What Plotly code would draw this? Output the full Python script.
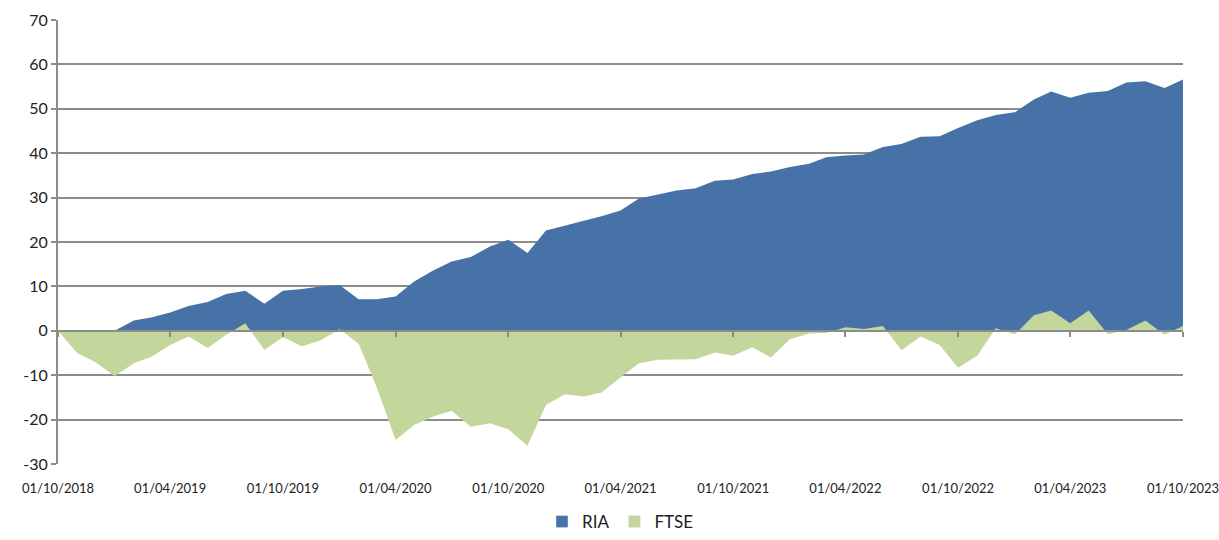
import pandas as pd
import plotly.graph_objects as go

dates = pd.date_range("2018-10-01", periods=61, freq="MS")

ria = [0.0, 0.0, 0.0, 0.0, 2.3, 3.0, 4.1, 5.6, 6.5, 8.3,
       9.0, 6.1, 9.0, 9.4, 10.0, 10.3, 7.1, 7.1, 7.7, 11.1,
       13.6, 15.6, 16.6, 19.0, 20.5, 17.5, 22.6, 23.7, 24.7, 25.8,
       27.1, 29.8, 30.7, 31.6, 32.1, 33.8, 34.1, 35.3, 35.9, 36.9,
       37.6, 39.1, 39.5, 39.7, 41.4, 42.1, 43.7, 43.8, 45.7, 47.4,
       48.6, 49.2, 52.1, 53.9, 52.5, 53.6, 54.0, 55.9, 56.2, 54.7,
       56.6]

ftse = [0.0, -5.0, -7.1, -10.2, -7.3, -5.9, -3.2, -1.3, -3.9, -0.9,
        1.7, -4.3, -1.4, -3.5, -2.2, 0.4, -2.9, -12.6, -24.6, -21.2,
        -19.3, -18.0, -21.6, -20.8, -22.2, -25.9, -16.7, -14.3, -14.8, -13.9,
        -10.5, -7.3, -6.5, -6.4, -6.4, -4.9, -5.6, -3.7, -6.0, -1.9,
        -0.6, -0.5, 0.8, 0.4, 1.1, -4.4, -1.3, -3.2, -8.3, -5.6,
        0.6, -0.8, 3.5, 4.6, 1.7, 4.6, -0.8, 0.2, 2.3, -0.9,
        1.1]

y_ticks = list(range(-30, 80, 10))
y_ticktext = [str(v) for v in y_ticks]  # ASCII hyphen minus like the reference

RIA_COLOR = "#4672A8"
FTSE_COLOR = "#C3D69B"
GRID = "#8C8C8C"
FONT = "Lato"
TXT = "#222222"

fig = go.Figure()
fig.add_trace(go.Scatter(x=dates, y=ria, name="RIA", mode="lines",
                         fill="tozeroy", fillcolor=RIA_COLOR, showlegend=False,
                         line=dict(width=0, color=RIA_COLOR)))
fig.add_trace(go.Scatter(x=dates, y=ftse, name="FTSE", mode="lines",
                         fill="tozeroy", fillcolor=FTSE_COLOR, showlegend=False,
                         line=dict(width=0, color=FTSE_COLOR)))
# legend-only square swatches
fig.add_trace(go.Bar(x=[None], y=[None], name="RIA", marker_color=RIA_COLOR))
fig.add_trace(go.Bar(x=[None], y=[None], name="FTSE", marker_color=FTSE_COLOR))
# invisible trace on overlay axis so the zero-line axis is drawn
fig.add_trace(go.Scatter(x=[dates[0], dates[-1]], y=[None, None], xaxis="x2",
                         showlegend=False, hoverinfo="skip", mode="lines"))

fig.update_layout(
    width=1219, height=540,
    margin=dict(l=58, r=36, t=20, b=76),
    paper_bgcolor="white", plot_bgcolor="white",
    font=dict(family=FONT, color=TXT),
    showlegend=True,
    legend=dict(orientation="h", x=0.5, xanchor="center",
                yref="container", y=0.0, yanchor="bottom",
                font=dict(size=17, family=FONT, color=TXT),
                itemwidth=30, traceorder="normal", tracegroupgap=0),
    xaxis=dict(type="date", range=[dates[0], dates[-1]],
               tickformat="%d/%m/%Y", dtick="M6", tick0=dates[0],
               showgrid=False, zeroline=False, showline=False, automargin=False,
               ticklabeloverflow="allow",
               ticks="", tickfont=dict(size=13, family=FONT, color=TXT),
               ticklabelstandoff=15),
    xaxis2=dict(type="date", range=[dates[0], dates[-1]], overlaying="x",
                anchor="free", position=0.3, side="bottom",
                dtick="M6", tick0=dates[0], showticklabels=False,
                ticks="outside", ticklen=5, tickwidth=1.5, tickcolor=GRID,
                showline=True, linecolor=GRID, linewidth=2,
                showgrid=False, zeroline=False, layer="above traces"),
    yaxis=dict(range=[-30, 70], tickvals=y_ticks, ticktext=y_ticktext,
               showgrid=True, automargin=False,
               gridcolor=GRID, gridwidth=2, zeroline=False,
               showline=True, linecolor=GRID, linewidth=2,
               ticks="outside", ticklen=5, tickwidth=1.5, tickcolor=GRID,
               tickfont=dict(size=16, family=FONT, color=TXT)),
)

fig.write_html("out.html", config={"displayModeBar": False},
               post_script="document.body.style.margin='0';document.body.style.overflow='hidden';")
